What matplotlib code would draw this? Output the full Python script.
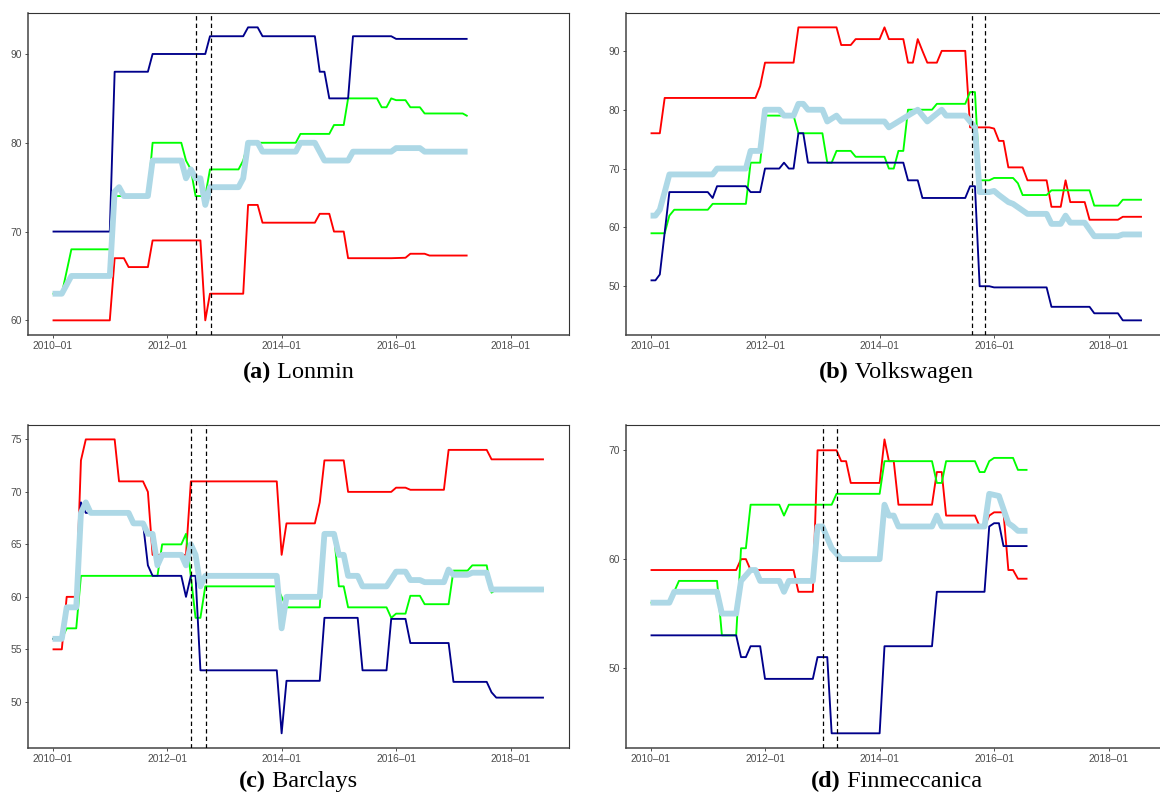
import matplotlib
matplotlib.use("Agg")
import matplotlib.pyplot as plt
import matplotlib.dates as mdates
import pandas as pd
import numpy as np

# ---------------- data (dates as YYYY-MM) ----------------
# Panel (a) Lonmin
a_red_d = ["2010-01","2011-01","2011-02","2011-04","2011-05","2011-09","2011-10","2012-08","2012-09","2012-10",
           "2013-05","2013-06","2013-08","2013-09","2014-08","2014-09","2014-11","2014-12","2015-02","2015-03",
           "2015-12","2016-03","2016-04","2016-07","2016-08","2017-04"]
a_red_v = [60,60,67,67,66,66,69,69,60,63,63,73,73,71,71,72,72,70,70,67,67,67.05,67.5,67.5,67.3,67.3]
a_green_d = ["2010-01","2010-03","2010-05","2011-01","2011-02","2011-09","2011-10","2012-04","2012-05","2012-06",
             "2012-07","2012-09","2012-10","2013-04","2013-05","2013-06","2014-04","2014-05","2014-11","2014-12",
             "2015-02","2015-03","2015-09","2015-10","2015-11","2015-12","2016-01","2016-03","2016-04","2016-06",
             "2016-07","2017-03","2017-04"]
a_green_v = [63,63,68,68,74,74,80,80,78,77,74,74,77,77,78,80,80,81,81,82,82,85,85,84,84,85,84.8,84.8,84,84,
             83.3,83.3,83]
a_blue_d = ["2010-01","2011-01","2011-02","2011-09","2011-10","2012-09","2012-10","2013-05","2013-06","2013-08",
            "2013-09","2014-08","2014-09","2014-10","2014-11","2015-03","2015-04","2015-12","2016-01","2017-04"]
a_blue_v = [70,70,88,88,90,90,92,92,93,93,92,92,88,88,85,85,92,92,91.7,91.7]
a_lb_d = ["2010-01","2010-03","2010-05","2011-01","2011-02","2011-03","2011-04","2011-09","2011-10","2012-04",
          "2012-05","2012-06","2012-07","2012-08","2012-09","2012-10","2013-04","2013-05","2013-06","2013-08",
          "2013-09","2014-04","2014-05","2014-08","2014-10","2015-03","2015-04","2015-12","2016-01","2016-06",
          "2016-07","2017-04"]
a_lb_v = [63,63,65,65,74.5,75,74,74,78,78,76,77,76,76,73,75,75,76,80,80,79,79,80,80,78,78,79,79,79.4,79.4,79,79]
a_events = ["2012-07-02", "2012-10-07"]

# Panel (b) Volkswagen
b_red_d = ["2010-01","2010-03","2010-04","2011-11","2011-12","2012-01","2012-07","2012-08","2013-04","2013-05",
           "2013-07","2013-08","2014-01","2014-02","2014-03","2014-06","2014-07","2014-08","2014-09","2014-10",
           "2014-11","2015-01","2015-02","2015-07","2015-08","2015-12","2016-01","2016-02","2016-03","2016-04",
           "2016-07","2016-08","2016-12","2017-01","2017-03","2017-04","2017-05","2017-08","2017-09","2018-03",
           "2018-04","2018-08"]
b_red_v = [76,76,82,82,84,88,88,94,94,91,91,92,92,94,92,92,88,88,92,90,88,88,90,90,77,77,76.8,74.7,74.7,70.2,
           70.2,68,68,63.5,63.5,68,64.3,64.3,61.3,61.3,61.8,61.8]
b_green_d = ["2010-01","2010-04","2010-05","2010-06","2011-01","2011-02","2011-09","2011-10","2011-12","2012-01",
             "2012-07","2012-08","2013-01","2013-02","2013-03","2013-04","2013-07","2013-08","2014-02","2014-03",
             "2014-04","2014-05","2014-06","2014-07","2014-12","2015-01","2015-07","2015-08","2015-09","2015-10",
             "2015-12","2016-01","2016-05","2016-06","2016-07","2016-12","2017-01","2017-09","2017-10","2018-03",
             "2018-04","2018-08"]
b_green_v = [59,59,62,63,63,64,64,71,71,79,79,76,76,71,71,73,73,72,72,70,70,73,73,80,80,81,81,83,83,68,68,68.4,
             68.4,67.5,65.5,65.5,66.3,66.3,63.7,63.7,64.7,64.7]
b_blue_d = ["2010-01","2010-02","2010-03","2010-05","2011-01","2011-02","2011-03","2011-09","2011-10","2011-12",
            "2012-01","2012-04","2012-05","2012-06","2012-07","2012-08","2012-09","2012-10","2014-06","2014-07",
            "2014-09","2014-10","2015-07","2015-08","2015-09","2015-10","2015-12","2016-01","2016-12","2017-01",
            "2017-09","2017-10","2018-03","2018-04","2018-08"]
b_blue_v = [51,51,52,66,66,65,67,67,66,66,70,70,71,70,70,76,76,71,71,68,68,65,65,67,67,50,50,49.8,49.8,46.5,
            46.5,45.4,45.4,44.2,44.2]
b_lb_d = ["2010-01","2010-02","2010-03","2010-04","2010-05","2011-02","2011-03","2011-09","2011-10","2011-12",
          "2012-01","2012-04","2012-05","2012-07","2012-08","2012-09","2012-10","2013-01","2013-02","2013-04",
          "2013-05","2014-02","2014-03","2014-05","2014-07","2014-09","2014-11","2015-02","2015-03","2015-07",
          "2015-09","2015-10","2015-12","2016-01","2016-02","2016-04","2016-05","2016-08","2016-12","2017-01",
          "2017-03","2017-04","2017-05","2017-08","2017-10","2018-03","2018-04","2018-08"]
b_lb_v = [62,62,63,66,69,69,70,70,73,73,80,80,79,79,81,81,80,80,78,79,78,78,77,78,79,80,78,80,79,79,77,66,66,
          66.2,65.5,64.3,64,62.3,62.3,60.6,60.6,62,60.8,60.8,58.5,58.5,58.8,58.8]
b_events = ["2015-08-11", "2015-11-07"]

# Panel (c) Barclays
c_red_d = ["2010-01","2010-03","2010-04","2010-06","2010-07","2010-08","2011-02","2011-03","2011-08","2011-09",
           "2011-10","2012-05","2012-06","2013-12","2014-01","2014-02","2014-08","2014-09","2014-10","2015-02",
           "2015-03","2015-12","2016-01","2016-03","2016-04","2016-11","2016-12","2017-08","2017-09","2018-08"]
c_red_v = [55,55,60,60,73,75,75,71,71,70,64,64,71,71,64,67,67,69,73,73,70,70,70.4,70.4,70.2,70.2,74,74,73.1,73.1]
c_green_d = ["2010-01","2010-03","2010-04","2010-06","2010-07","2011-11","2011-12","2012-04","2012-05","2012-07",
             "2012-08","2012-09","2013-12","2014-02","2014-09","2014-10","2014-12","2015-01","2015-02","2015-03",
             "2015-11","2015-12","2016-01","2016-03","2016-04","2016-06","2016-07","2016-12","2017-01","2017-04",
             "2017-05","2017-08","2017-09","2017-10","2018-08"]
c_green_v = [56,56,57,57,62,62,65,65,66,58,58,61,61,59,59,66,66,61,61,59,59,58,58.4,58.4,60.1,60.1,59.3,59.3,
             62.5,62.5,63,63,60.4,60.7,60.7]
c_blue_d = ["2010-01","2010-03","2010-04","2010-06","2010-07","2010-08","2011-05","2011-06","2011-08","2011-09",
            "2011-10","2012-04","2012-05","2012-06","2012-07","2012-08","2013-12","2014-01","2014-02","2014-09",
            "2014-10","2015-05","2015-06","2015-11","2015-12","2016-03","2016-04","2016-12","2017-01","2017-08",
            "2017-09","2017-10","2018-08"]
c_blue_v = [56,56,59,59,69,68,68,67,67,63,62,62,60,62,62,53,53,47,52,52,58,58,53,53,57.9,57.9,55.6,55.6,51.9,
            51.9,50.9,50.4,50.4]
c_lb_d = ["2010-01","2010-03","2010-04","2010-06","2010-07","2010-08","2010-09","2011-05","2011-06","2011-08",
          "2011-09","2011-10","2011-11","2011-12","2012-04","2012-05","2012-06","2012-07","2012-08","2012-09",
          "2013-12","2014-01","2014-02","2014-09","2014-10","2014-12","2015-01","2015-02","2015-03","2015-05",
          "2015-06","2015-11","2016-01","2016-03","2016-04","2016-06","2016-07","2016-11","2016-12","2017-01",
          "2017-04","2017-05","2017-08","2017-09","2018-08"]
c_lb_v = [56,56,59,59,68,69,68,68,67,67,66,66,63,64,64,63,65,64,61,62,62,57,60,60,66,66,64,64,62,62,61,61,62.4,
          62.4,61.6,61.6,61.4,61.4,62.6,62.1,62.1,62.3,62.3,60.7,60.7]
c_events = ["2012-06-01", "2012-09-03"]

# Panel (d) Finmeccanica
d_red_d = ["2010-01","2011-07","2011-08","2011-09","2011-10","2012-07","2012-08","2012-11","2012-12","2013-04",
           "2013-05","2013-06","2013-07","2014-01","2014-02","2014-03","2014-04","2014-05","2014-12","2015-01",
           "2015-02","2015-03","2015-09","2015-10","2015-11","2015-12","2016-01","2016-03","2016-04","2016-05",
           "2016-06","2016-08"]
d_red_v = [59,59,60,60,59,59,57,57,70,70,69,69,67,67,71,69,69,65,65,68,68,64,64,63,63,64,64.3,64.3,59,59,58.2,58.2]
d_green_d = ["2010-01","2010-05","2010-07","2011-03","2011-04","2011-07","2011-08","2011-09","2011-10","2012-04",
             "2012-05","2012-06","2013-03","2013-04","2014-01","2014-02","2014-12","2015-01","2015-02","2015-03",
             "2015-09","2015-10","2015-11","2015-12","2016-01","2016-05","2016-06","2016-08"]
d_green_v = [56,56,58,58,53,53,61,61,65,65,64,65,65,66,66,69,69,67,67,69,69,68,68,69,69.3,69.3,68.2,68.2]
d_blue_d = ["2010-01","2011-07","2011-08","2011-09","2011-10","2011-12","2012-01","2012-11","2012-12","2013-02",
            "2013-03","2014-01","2014-02","2014-12","2015-01","2015-11","2015-12","2016-01","2016-02","2016-03",
            "2016-08"]
d_blue_v = [53,53,51,51,52,52,49,49,51,51,44,44,52,52,57,57,63,63.3,63.3,61.2,61.2]
d_lb_d = ["2010-01","2010-05","2010-06","2011-03","2011-04","2011-07","2011-08","2011-10","2011-11","2011-12",
          "2012-04","2012-05","2012-06","2012-11","2012-12","2013-01","2013-03","2013-05","2014-01","2014-02",
          "2014-03","2014-04","2014-05","2014-12","2015-01","2015-02","2015-11","2015-12","2016-02","2016-04",
          "2016-05","2016-06","2016-08"]
d_lb_v = [56,56,57,57,55,55,58,59,59,58,58,57,58,58,63,63,61,60,60,65,64,64,63,63,64,63,63,66,65.8,63.3,63,
          62.6,62.6]
d_events = ["2013-01-04", "2013-04-04"]

titles = [("(a)", "Lonmin"), ("(b)", "Volkswagen"), ("(c)", "Barclays"), ("(d)", "Finmeccanica")]
yticks = [[60, 70, 80, 90], [50, 60, 70, 80, 90], [50, 55, 60, 65, 70, 75], [50, 60, 70]]
xtick_dates = ["2010-01", "2012-01", "2014-01", "2016-01", "2018-01"]
x_range = ["2010-01", "2018-08"]

panels = [
    dict(series=[(a_red_d, a_red_v), (a_green_d, a_green_v), (a_blue_d, a_blue_v), (a_lb_d, a_lb_v)], ev=a_events),
    dict(series=[(b_red_d, b_red_v), (b_green_d, b_green_v), (b_blue_d, b_blue_v), (b_lb_d, b_lb_v)], ev=b_events),
    dict(series=[(c_red_d, c_red_v), (c_green_d, c_green_v), (c_blue_d, c_blue_v), (c_lb_d, c_lb_v)], ev=c_events),
    dict(series=[(d_red_d, d_red_v), (d_green_d, d_green_v), (d_blue_d, d_blue_v), (d_lb_d, d_lb_v)], ev=d_events),
]

colors = ["#FF0000", "#00FF00", "#00008B", "#ADD8E6"]
widths = [1.35, 1.35, 1.35, 4.2]

W, H = 1160, 794
fig = plt.figure(figsize=(W / 100, H / 100), dpi=100)

# axes boxes in pixels: left, top, right, bottom
boxes = [(28.0, 12.7, 568.5, 335.0), (626.0, 12.7, 1166.5, 335.0),
         (28.0, 424.7, 568.5, 748.0), (626.0, 424.7, 1166.5, 748.0)]
caption_base = [378.0, 378.0, 787.0, 787.0]

x0 = pd.Timestamp(x_range[0] + "-01")
x1 = pd.Timestamp(x_range[1] + "-01")
span = x1 - x0
xlim = (mdates.date2num(x0 - span * 0.05), mdates.date2num(x1 + span * 0.05))

renderer = fig.canvas.get_renderer()
for i, p in enumerate(panels):
    l, t, r, b = boxes[i]
    ax = fig.add_axes([l / W, 1 - b / H, (r - l) / W, (b - t) / H])
    allv = []
    for (dts, vals), c, lw in zip(p["series"], colors, widths):
        x = pd.to_datetime([d + "-01" for d in dts])
        ax.plot(x, vals, color=c, lw=lw, solid_joinstyle="round", solid_capstyle="butt", zorder=2)
        allv += list(vals)
    for e in p["ev"]:
        ax.axvline(pd.Timestamp(e), color="black", lw=0.9, linestyle=(0, (3.5, 2.5)), zorder=3)
    lo, hi = min(allv), max(allv)
    pad = (hi - lo) * 0.05
    ax.set_ylim(lo - pad, hi + pad)
    ax.set_xlim(*xlim)
    ax.set_yticks(yticks[i])
    ax.set_yticklabels([str(v) for v in yticks[i]])
    xt = pd.to_datetime([d + "-01" for d in xtick_dates])
    ax.set_xticks(xt)
    ax.set_xticklabels([d.replace("-", "\u2013") for d in xtick_dates])
    ax.tick_params(axis="both", length=2.2, width=0.6, color="#333333", labelsize=7.4,
                   labelcolor="#4D4D4D", pad=2)
    for lab in ax.get_xticklabels() + ax.get_yticklabels():
        lab.set_family("Liberation Sans")
    for s in ["top", "right"]:
        ax.spines[s].set_color("#333333")
        ax.spines[s].set_linewidth(0.8)
    for s in ["left", "bottom"]:
        ax.spines[s].set_color("#444444")
        ax.spines[s].set_linewidth(1.1)

    # caption: bold label + normal name, centred under panel
    cx = (l + r) / 2
    t1 = fig.text(0, 0, titles[i][0], fontsize=17.5, fontweight="bold", family="Liberation Serif",
                  va="baseline", ha="left")
    t2 = fig.text(0, 0, " " + titles[i][1], fontsize=17.5, family="Liberation Serif",
                  va="baseline", ha="left")
    w1 = t1.get_window_extent(renderer).width
    w2 = t2.get_window_extent(renderer).width
    start = cx - (w1 + w2) / 2
    yb = 1 - caption_base[i] / H
    t1.set_position((start / W, yb))
    t2.set_position(((start + w1) / W, yb))

fig.savefig("out.png", dpi=100)
